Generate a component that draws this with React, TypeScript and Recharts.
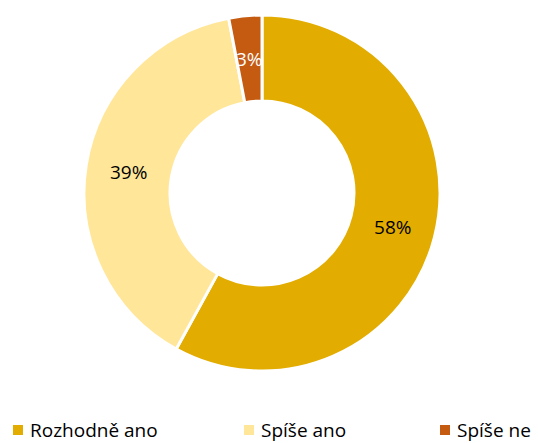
import { Cell, Legend, Pie, PieChart } from 'recharts'

const categories = ['Rozhodně ano', 'Spíše ano', 'Spíše ne']
const shares = [58, 39, 3]
const colors = ['#E2AC00', '#FFE699', '#C55A11']
const labelColors = ['#000000', '#000000', '#FFFFFF']
const legendX = [13, 244, 440]

const data = categories.map((name, i) => ({ name, value: shares[i] }))

const RAD = Math.PI / 180

function renderLabel(props: any) {
  const { cx, cy, midAngle, innerRadius, outerRadius, index, value } = props
  const r = (innerRadius + outerRadius) / 2
  const x = cx + r * Math.cos(-midAngle * RAD)
  const y = cy + r * Math.sin(-midAngle * RAD)
  return (
    <text
      x={x}
      y={y}
      fill={labelColors[index]}
      textAnchor="middle"
      dominantBaseline="central"
      fontSize={19}
      fontFamily="'Open Sans', sans-serif"
    >
      {`${value}%`}
    </text>
  )
}

function LegendContent() {
  return (
    <div style={{ position: 'relative', width: 538, height: 24 }}>
      {categories.map((c, i) => (
        <div
          key={c}
          style={{
            position: 'absolute',
            left: legendX[i],
            top: 0,
            height: 24,
            lineHeight: '24px',
            display: 'flex',
            alignItems: 'center',
            fontFamily: "'Open Sans', sans-serif",
            fontSize: 19,
            color: '#000',
            whiteSpace: 'nowrap',
          }}
        >
          <span
            style={{
              display: 'inline-block',
              width: 10,
              height: 10,
              background: colors[i],
              marginRight: 7,
            }}
          />
          {c}
        </div>
      ))}
    </div>
  )
}

export default function App() {
  return (
    <div style={{ position: 'absolute', left: 0, top: 0, background: '#fff' }}>
      <PieChart width={538} height={443} margin={{ top: 0, right: 0, bottom: 0, left: 0 }}>
        <Pie
          data={data}
          dataKey="value"
          nameKey="name"
          cx={262}
          cy={193}
          innerRadius={92}
          outerRadius={178}
          startAngle={90}
          endAngle={-270}
          stroke="#FFFFFF"
          strokeWidth={3}
          label={renderLabel}
          labelLine={false}
          isAnimationActive={false}
        >
          {data.map((d, i) => (
            <Cell key={d.name} fill={colors[i]} />
          ))}
        </Pie>
        <Legend
          verticalAlign="bottom"
          align="left"
          wrapperStyle={{ left: 0, bottom: 1, width: 538 }}
          content={<LegendContent />}
        />
      </PieChart>
    </div>
  )
}
